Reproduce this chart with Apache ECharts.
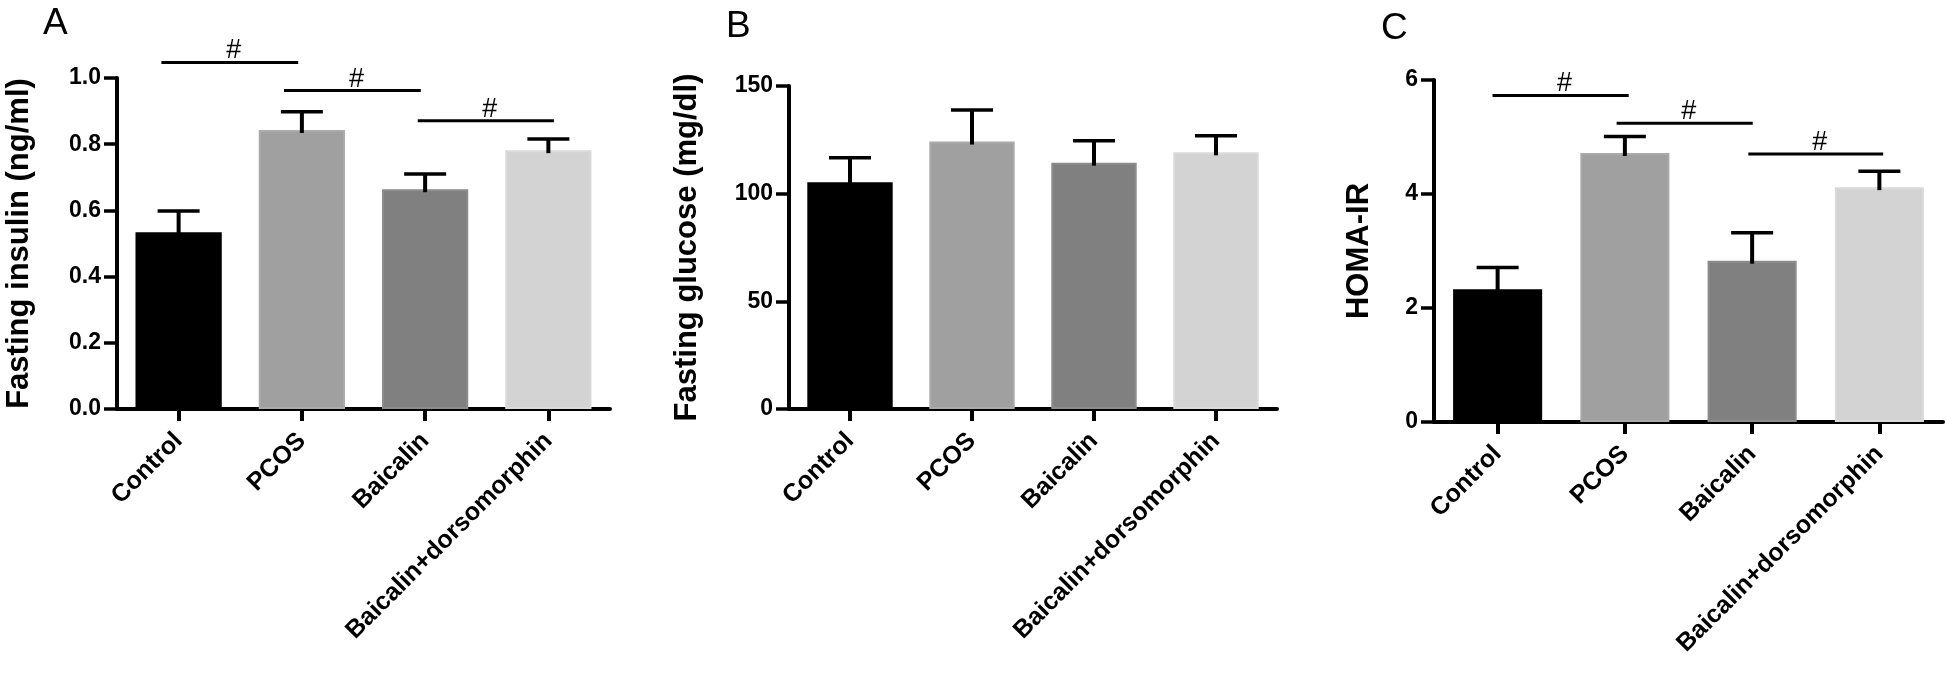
<!DOCTYPE html>
<html>
<head>
<meta charset="utf-8">
<title>Fasting insulin, glucose and HOMA-IR</title>
<script src="https://cdn.jsdelivr.net/npm/echarts@6/dist/echarts.min.js"></script>
<style>
  html, body { margin: 0; padding: 0; background: #fff; }
  #chart { width: 1946px; height: 675px; }
</style>
</head>
<body>
<div id="chart"></div>
<script>
// groups on the x axis
var categories = ['Control', 'PCOS', 'Baicalin', 'Baicalin+dorsomorphin'];

// A: fasting insulin (ng/ml), mean and SD
var insulinMean = [0.534, 0.843, 0.664, 0.782];
var insulinSD = [0.064, 0.055, 0.046, 0.034];
// B: fasting glucose (mg/dl)
var glucoseMean = [105.3, 124.2, 114.4, 119.2];
var glucoseSD = [11.4, 14.7, 10.2, 7.7];
// C: HOMA-IR
var homaMean = [2.33, 4.72, 2.83, 4.12];
var homaSD = [0.38, 0.29, 0.49, 0.28];

// significance brackets: [from (category index), to, height]
var insulinSig = [[-0.14, 0.97, 1.047], [0.855, 1.965, 0.962], [1.94, 3.045, 0.871]];
var homaSig = [[-0.04, 1.03, 5.73], [0.935, 2.005, 5.24], [1.97, 3.03, 4.70]];

// y axis ticks: min, max, step
var insulinTicks = [0, 1.0, 0.2];
var glucoseTicks = [0, 150, 50];
var homaTicks = [0, 6, 2];

var barColors = ['#000000', '#a0a0a0', '#808080', '#d3d3d3'];
var barEdges = ['#000000', '#aaaaaa', '#8c8c8c', '#dadada'];

var FONT = '"Liberation Sans", Arial, Helvetica, sans-serif';

var chart = echarts.init(document.getElementById('chart'));

function yAxis(idx, name, ticks, gap, fmt) {
    return {
        type: 'value',
        gridIndex: idx,
        min: ticks[0],
        max: ticks[1],
        interval: ticks[2],
        name: name,
        nameLocation: 'middle',
        nameGap: gap,
        nameMoveOverlap: false,
        nameTextStyle: { fontFamily: FONT, fontSize: 31, fontWeight: 'bold', color: '#000' },
        axisLine: { show: true, onZero: false, lineStyle: { color: '#000', width: 4 } },
        axisTick: { show: true, length: 13, lineStyle: { color: '#000', width: 3.5 } },
        axisLabel: {
            fontFamily: FONT, fontSize: 23, fontWeight: 'bold', color: '#000', margin: 16,
            formatter: fmt || function (v) { return String(v); }
        },
        splitLine: { show: false }
    };
}

function catAxis(idx) {
    return {
        type: 'category',
        gridIndex: idx,
        data: categories,
        axisLine: { show: true, onZero: false, lineStyle: { color: '#000', width: 4 } },
        axisTick: { show: true, alignWithLabel: true, length: 12, lineStyle: { color: '#000', width: 4 } },
        axisLabel: {
            interval: 0, rotate: 45, margin: 28,
            fontFamily: FONT, fontSize: 25, fontWeight: 'bold', color: '#000'
        },
        splitLine: { show: false }
    };
}

// hidden axis in category units, used to place the brackets
function posAxis(idx) {
    return { type: 'value', gridIndex: idx, min: -0.5, max: 3.5, show: false, axisLine: { onZero: false } };
}

function barSeries(idx, means) {
    return {
        type: 'bar',
        xAxisIndex: idx,
        yAxisIndex: idx,
        barCategoryGap: '30%',
        z: 2,
        data: means.map(function (v, i) {
            return { value: v, itemStyle: { color: barColors[i], borderColor: barEdges[i], borderWidth: 2 } };
        })
    };
}

function errorSeries(idx, means, sds) {
    return {
        type: 'custom',
        xAxisIndex: idx,
        yAxisIndex: idx,
        z: 3,
        encode: { x: 0, y: [1, 2] },
        data: means.map(function (m, i) { return [i, m, m + sds[i]]; }),
        renderItem: function (params, api) {
            var x = api.value(0);
            var lo = api.coord([x, api.value(1)]);
            var hi = api.coord([x, api.value(2)]);
            var half = 21;
            return {
                type: 'group',
                children: [
                    { type: 'rect', shape: { x: hi[0] - 2, y: hi[1], width: 4, height: lo[1] - hi[1] + 3 }, style: { fill: '#000' } },
                    { type: 'rect', shape: { x: hi[0] - half, y: hi[1] - 1.75, width: half * 2, height: 3.5 }, style: { fill: '#000' } }
                ]
            };
        }
    };
}

function sigSeries(idx, sig) {
    return {
        type: 'custom',
        xAxisIndex: idx + 3,
        yAxisIndex: idx,
        clip: false,
        z: 4,
        encode: { x: [0, 1], y: 2 },
        data: sig,
        renderItem: function (params, api) {
            var a = api.coord([api.value(0), api.value(2)]);
            var b = api.coord([api.value(1), api.value(2)]);
            return {
                type: 'group',
                children: [
                    { type: 'rect', shape: { x: a[0], y: a[1] - 1.5, width: b[0] - a[0], height: 3 }, style: { fill: '#000' } },
                    {
                        type: 'text',
                        style: {
                            text: '#', x: (a[0] + b[0]) / 2 + 4, y: a[1] + 2,
                            align: 'center', verticalAlign: 'bottom',
                            font: 'normal 27px ' + FONT, fill: '#000'
                        }
                    }
                ]
            };
        }
    };
}

function panelTitle(text, left, top) {
    return {
        text: text, left: left, top: top, padding: 0,
        textStyle: { fontFamily: FONT, fontSize: 37, fontWeight: 'normal', color: '#000' }
    };
}

var option = {
    backgroundColor: '#fff',
    animation: false,
    title: [panelTitle('A', 43, 5), panelTitle('B', 726, 8), panelTitle('C', 1381, 10)],
    grid: [
        { left: 117, top: 78, width: 493, height: 331, containLabel: false, outerBoundsMode: 'none' },
        { left: 789, top: 86, width: 488, height: 323, containLabel: false, outerBoundsMode: 'none' },
        { left: 1434, top: 80, width: 509, height: 342, containLabel: false, outerBoundsMode: 'none' }
    ],
    xAxis: [catAxis(0), catAxis(1), catAxis(2), posAxis(0), posAxis(1), posAxis(2)],
    yAxis: [
        yAxis(0, 'Fasting insulin (ng/ml)', insulinTicks, 82, function (v) { return v.toFixed(1); }),
        yAxis(1, 'Fasting glucose (mg/dl)', glucoseTicks, 86),
        yAxis(2, 'HOMA-IR', homaTicks, 59)
    ],
    series: [
        barSeries(0, insulinMean), errorSeries(0, insulinMean, insulinSD), sigSeries(0, insulinSig),
        barSeries(1, glucoseMean), errorSeries(1, glucoseMean, glucoseSD),
        barSeries(2, homaMean), errorSeries(2, homaMean, homaSD), sigSeries(2, homaSig)
    ]
};

chart.setOption(option);
</script>
</body>
</html>
